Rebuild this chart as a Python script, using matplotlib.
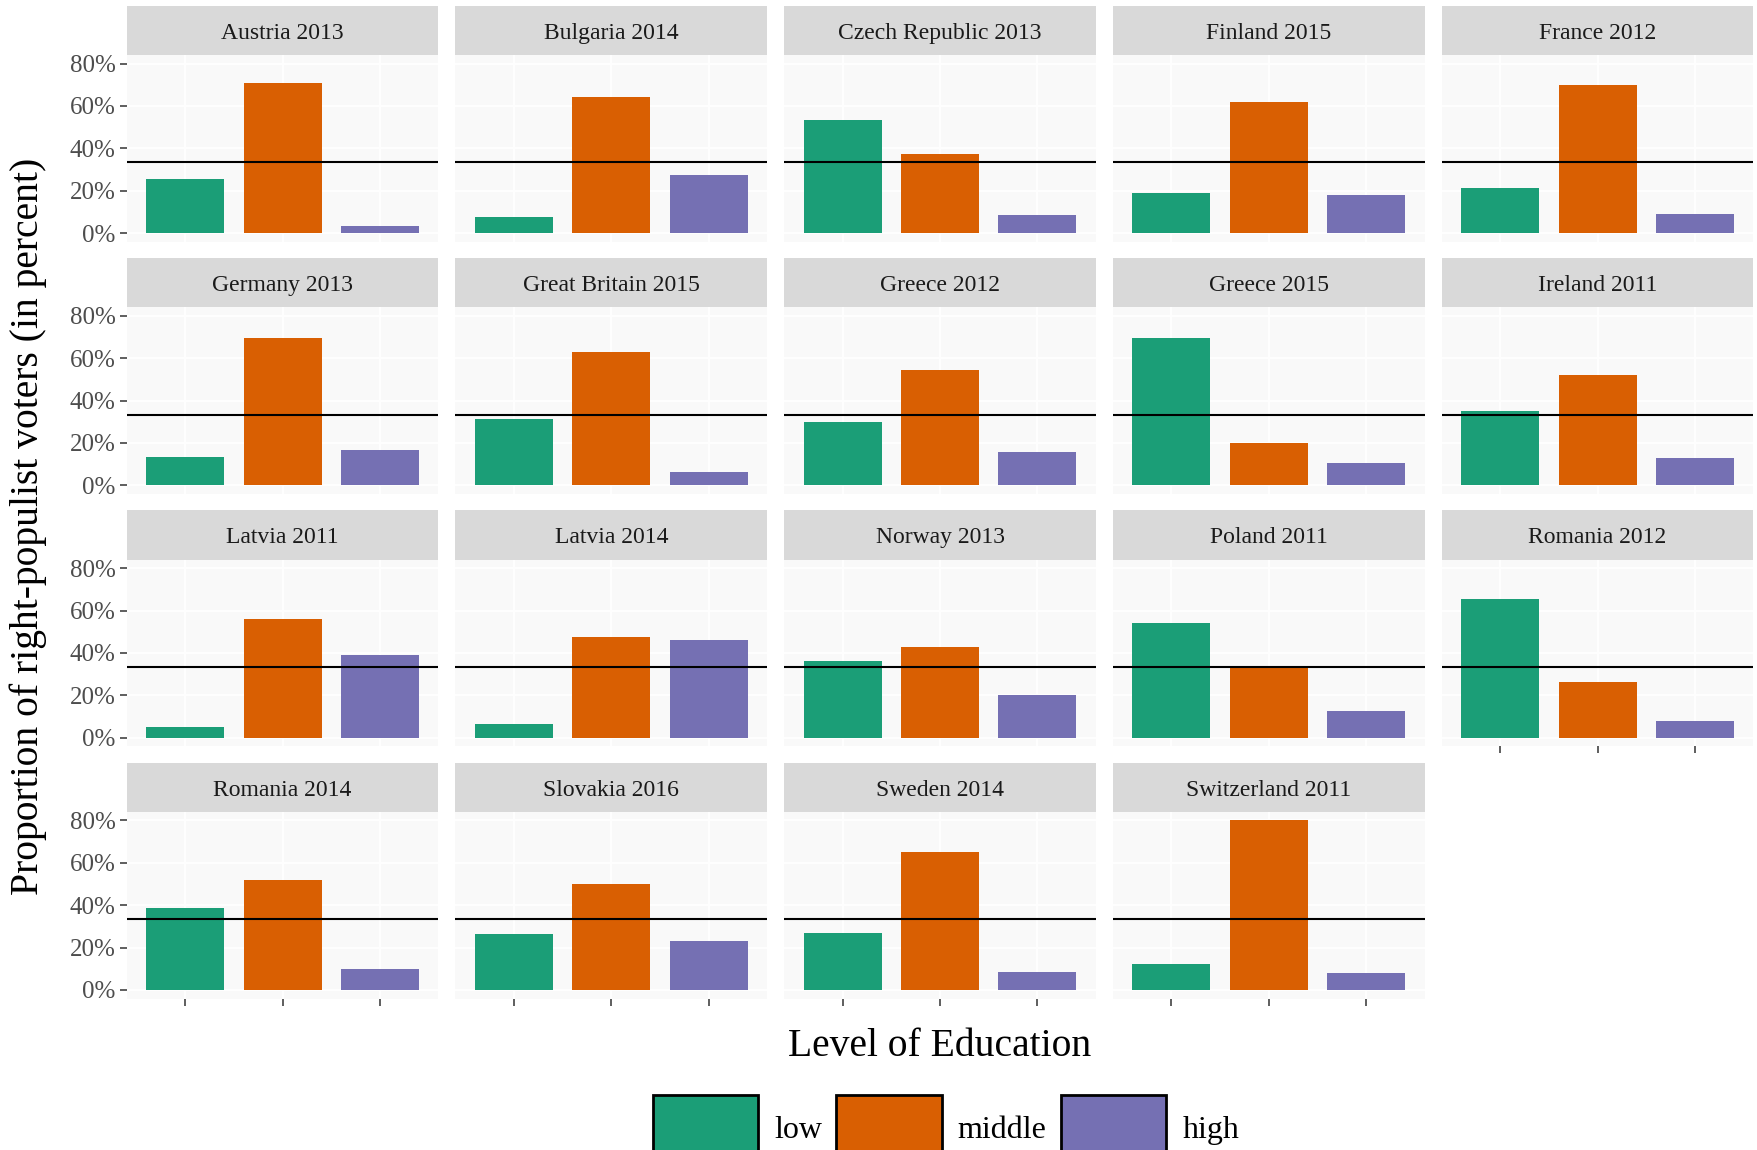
import matplotlib.pyplot as plt
from matplotlib.patches import Patch

plt.rcParams['font.family'] = ['Liberation Serif', 'DejaVu Serif']

# share of right-populist voters per education level (percent)
elections = ['Austria 2013', 'Bulgaria 2014', 'Czech Republic 2013', 'Finland 2015', 'France 2012',
             'Germany 2013', 'Great Britain 2015', 'Greece 2012', 'Greece 2015', 'Ireland 2011',
             'Latvia 2011', 'Latvia 2014', 'Norway 2013', 'Poland 2011', 'Romania 2012',
             'Romania 2014', 'Slovakia 2016', 'Sweden 2014', 'Switzerland 2011']
low = [25.4, 7.4, 53.4, 19.0, 21.1,
       13.2, 31.2, 30.1, 69.7, 35.3,
       5.2, 6.3, 36.4, 53.9, 65.4,
       38.5, 26.4, 26.9, 12.2]
middle = [70.7, 64.4, 37.5, 61.8, 69.7,
          69.7, 62.9, 54.4, 20.1, 52.0,
          55.9, 47.5, 42.8, 33.3, 26.4,
          51.8, 50.2, 64.9, 80.2]
high = [3.2, 27.4, 8.4, 17.9, 9.0,
        16.9, 6.3, 15.8, 10.6, 12.7,
        39.1, 45.9, 20.1, 12.7, 7.9,
        10.0, 23.3, 8.4, 7.9]
levels = ['low', 'middle', 'high']
colors = ['#1b9e77', '#d95f02', '#7570b3']
reference_line = 100 / 3

W, H = 1758, 1150
fig = plt.figure(figsize=(W / 100, H / 100), dpi=100)

ncol = 5
n = len(elections)
for i, name in enumerate(elections):
    r, c = divmod(i, ncol)
    left = 126.7 + c * 328.75
    width = 311.7
    strip_top = 5.6 + r * 252.3
    strip_h = 49.3
    panel_bottom = strip_top + 236.1

    # facet strip
    sax = fig.add_axes([left / W, 1 - (strip_top + strip_h) / H, width / W, strip_h / H])
    sax.set_facecolor('#d9d9d9')
    sax.set_xticks([])
    sax.set_yticks([])
    for s in sax.spines.values():
        s.set_visible(False)
    sax.text(0.5, 0.44, name, ha='center', va='center', fontsize=17, color='#1a1a1a',
             transform=sax.transAxes)

    # panel
    ax = fig.add_axes([left / W, 1 - panel_bottom / H, width / W,
                       (panel_bottom - strip_top - strip_h) / H])
    ax.set_facecolor('#f9f9f9')
    vals = [low[i], middle[i], high[i]]
    ax.bar([1, 2, 3], vals, width=0.8, color=colors, zorder=2)
    ax.axhline(reference_line, color='black', linewidth=1.5, zorder=3)
    ax.set_xlim(0.4, 3.6)
    ax.set_ylim(-4.1, 84.1)
    ax.set_xticks([1, 2, 3])
    ax.set_xticklabels([])
    ax.set_yticks([0, 20, 40, 60, 80])
    ax.grid(color='white', linewidth=1.3, zorder=1)
    ax.set_axisbelow(True)
    for s in ax.spines.values():
        s.set_visible(False)

    if c == 0:
        ax.set_yticklabels([f'{v}%' for v in [0, 20, 40, 60, 80]])
        ax.tick_params(axis='y', length=5, width=1.1, color='#333333',
                       labelsize=18, labelcolor='#4d4d4d', pad=3)
    else:
        ax.set_yticklabels([])
        ax.tick_params(axis='y', length=0)

    bottom_of_column = (i + ncol >= n)
    if bottom_of_column:
        ax.tick_params(axis='x', length=5, width=1.1, color='#333333')
    else:
        ax.tick_params(axis='x', length=0)

fig.text(28 / W, 1 - 526 / H, 'Proportion of right-populist voters (in percent)',
         rotation=90, ha='center', va='center', fontsize=28.5, color='black')
fig.text(940 / W, 1 - 1046 / H, 'Level of Education', ha='center', va='center',
         fontsize=28.5, color='black')

handles = [Patch(facecolor=col, edgecolor='black', linewidth=2) for col in colors]
fig.legend(handles, levels, loc='upper left', bbox_to_anchor=(652.5 / W, 1 - 1095 / H),
           ncol=3, frameon=False, fontsize=23, handlelength=3.3, handleheight=2.9,
           handletextpad=0.5, columnspacing=0.45, borderaxespad=0, borderpad=0)

fig.savefig('out.png', dpi=100)
